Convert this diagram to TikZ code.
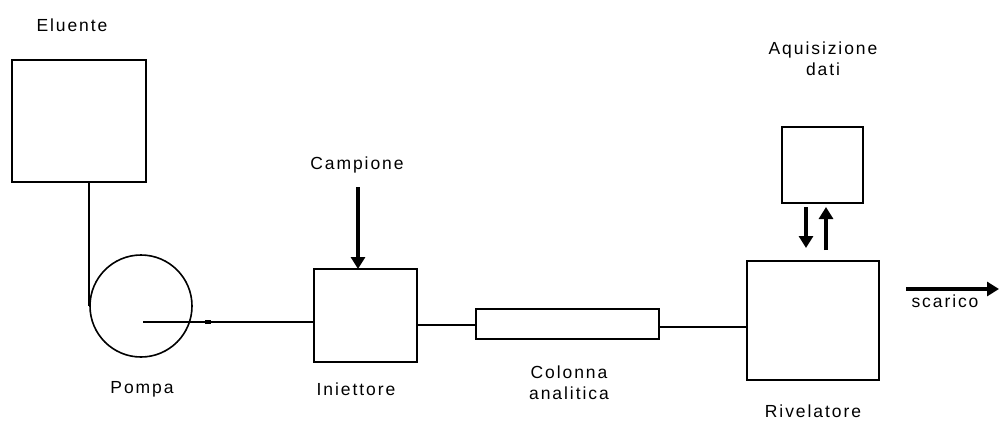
\documentclass[tikz,border=0pt]{standalone}
\usepackage{fontspec}
\setmainfont{Liberation Sans}[LetterSpace=11]
\usetikzlibrary{arrows.meta,calc}
\tikzset{
  box/.style={draw=black, line width=1.8pt, fill=white, inner sep=0pt, outer sep=0pt},
  pipe/.style={draw=black, line width=1.8pt},
  flow/.style={draw=black, line width=3.2pt, -{Triangle[width=14pt,length=12pt]}},
  lbl/.style={inner sep=0pt, font=\fontsize{17.5}{21}\selectfont, align=center},
}
\begin{document}
\begin{tikzpicture}[x=1pt, y=-1pt]
\useasboundingbox[fill=white] (0,0) rectangle (999,421);
% components
\node[box, minimum width=134pt, minimum height=122pt] (elu) at (79,121) {};
\node[draw=black, line width=1.6pt, circle, minimum size=102pt, inner sep=0pt] (pump) at (141,306) {};
\node[box, minimum width=103pt, minimum height=93pt] (inj) at (365.5,315.5) {};
\node[box, minimum width=183pt, minimum height=30pt] (col) at (567.5,324) {};
\node[box, minimum width=132pt, minimum height=119pt] (det) at (813,320.5) {};
\node[box, minimum width=81pt, minimum height=76pt] (acq) at (822.5,165) {};
% labels
\node[lbl] (lelu) at (72,25) {Eluente};
\node[lbl] (lpump) at (142,389) {Pompa};
\node[lbl] (lcamp) at (357,165) {Campione};
\node[lbl] (linj) at (356,389) {Iniettore};
\node[lbl] (lcol) at (569,383) {Colonna\\analitica};
\node[lbl] (ldet) at (813,411) {Rivelatore};
\node[lbl] (lacq) at (823,59) {Aquisizione\\dati};
\node[lbl] (lsca) at (945,301) {scarico};
% connectors
\draw[pipe] (elu.south -| pump.west) -- (pump.west);
\coordinate (pin) at (143,322);
\draw[pipe] (pin) -- (pin -| inj.west);
\fill (205,320) rectangle (211,324);
\draw[pipe] ($(inj.east)+(0,9.5)$) -- ($(col.west)+(0,1)$);
\draw[pipe] ($(col.east)+(0,3)$) -- ($(col.east -| det.west)+(0,3)$);
% arrows
\coordinate (cs) at (358,187);
\draw[flow] (cs) -- (cs |- inj.north);
\coordinate (dn) at (806,207);
\draw[flow] (dn) -- ($(dn |- det.north)+(0,-13)$);
\coordinate (up) at (826,250);
\draw[flow] (up) -- ($(up |- acq.south)+(0,4)$);
\coordinate (sc) at (906,289);
\coordinate (scend) at (999,289);
\draw[flow] (sc) -- (scend);
\end{tikzpicture}
\end{document}
